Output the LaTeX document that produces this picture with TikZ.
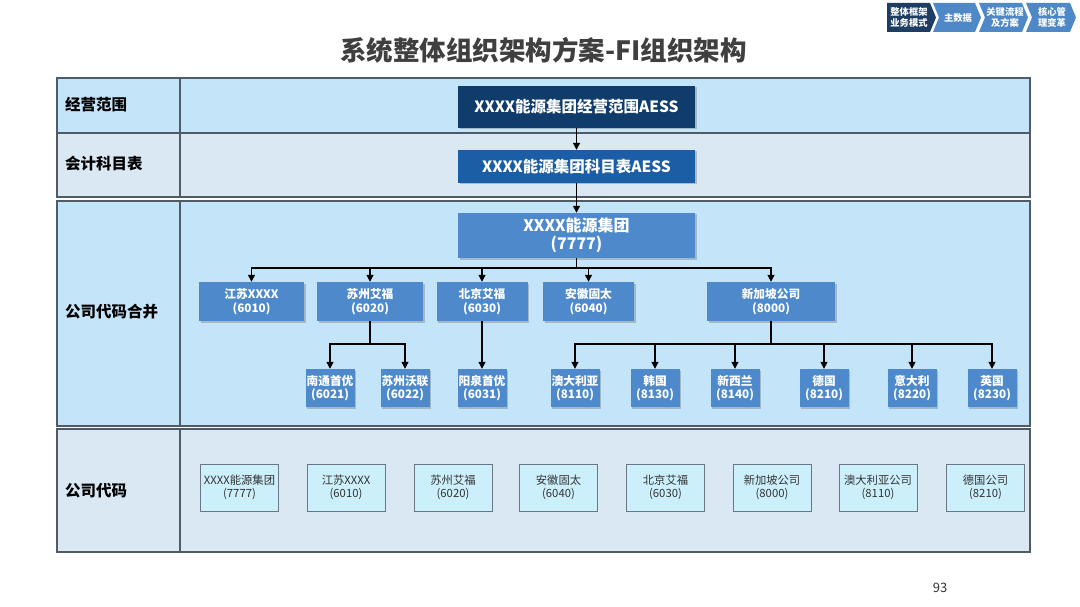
\documentclass[tikz,border=0pt]{standalone}
\usepackage{fontspec}
\setmainfont{Noto Sans CJK SC}
\usetikzlibrary{arrows.meta,shadows}
\definecolor{rowA}{HTML}{C4E4FA}
\definecolor{rowB}{HTML}{DAE8F4}
\definecolor{rule}{HTML}{4F5B66}
\definecolor{navy}{HTML}{0F3C6B}
\definecolor{midblue}{HTML}{1B5EA6}
\definecolor{boxblue}{HTML}{4E8ACB}
\definecolor{codefill}{HTML}{CCEFFC}
\definecolor{codeline}{HTML}{6A7886}
\definecolor{crumbdark}{HTML}{1E3D63}
\definecolor{crumb}{HTML}{4F88C6}
\definecolor{titlegray}{HTML}{3F3F3F}
\begin{document}
\begin{tikzpicture}[x=1pt,y=-1pt,
  rowlbl/.style={anchor=west, inner sep=0pt, font=\fontsize{15.5}{18}\selectfont\bfseries, text=black},
  shade/.style={drop shadow={shadow xshift=1.5pt, shadow yshift=-1.5pt, opacity=0.35, fill=black!60}},
  bigbox/.style={shade, inner sep=0pt, minimum width=237pt, text=white, align=center},
  orgbox/.style={shade, fill=boxblue, inner sep=0pt, text=white, align=center, font=\fontsize{11.7}{13.5}\selectfont\bfseries},
  subbox/.style={orgbox, minimum width=49pt, minimum height=38pt},
  codebox/.style={draw=codeline, line width=0.8pt, fill=codefill, inner sep=0pt, minimum width=78pt, minimum height=47pt, align=center, text=black!80, font=\fontsize{11.3}{12.5}\selectfont},
  conn/.style={draw=black, line width=1.2pt, -{Triangle[length=7pt,width=7pt]}},
  tablerow/.style={draw=rule, line width=1.3pt},
  crumbtxt/.style={text=white, align=center, inner sep=0pt, font=\fontsize{9.3}{10.5}\selectfont\bfseries}
]
\useasboundingbox (0,0) rectangle (1080,607);
\fill[white] (0,0) rectangle (1080,607);

% title
\node[font=\fontsize{26.5}{30}\selectfont\bfseries, text=titlegray] (title) at (543.5,50) {系统整体组织架构方案-FI组织架构};

% breadcrumb
\fill[crumbdark] (887,3) -- (930,3) -- (936,17.5) -- (930,32) -- (887,32) -- cycle;
\fill[crumb] (933,3) -- (975,3) -- (981,17.5) -- (975,32) -- (933,32) -- (939,17.5) -- cycle;
\fill[crumb] (979,3) -- (1022,3) -- (1028,17.5) -- (1022,32) -- (979,32) -- (985,17.5) -- cycle;
\fill[crumb] (1026,3) -- (1070,3) -- (1076,17.5) -- (1070,32) -- (1026,32) -- (1032,17.5) -- cycle;
\node[crumbtxt] (c1) at (909,17.5) {整体框架\\业务模式};
\node[crumbtxt] (c2) at (958,17.5) {主数据};
\node[crumbtxt] (c3) at (1005,17.5) {关键流程\\及方案};
\node[crumbtxt] (c4) at (1052,17.5) {核心管\\理变革};

% table rows
\path[tablerow, fill=rowA] (57,78) rectangle (1030,133);
\path[tablerow, fill=rowB] (57,133) rectangle (1030,197);
\path[tablerow, fill=rowA] (57,201) rectangle (1030,426);
\path[tablerow, fill=rowB] (57,429) rectangle (1030,552);
\draw[rule, line width=1.3pt] (180,78) -- (180,197);
\draw[rule, line width=1.3pt] (180,201) -- (180,426);
\draw[rule, line width=1.3pt] (180,429) -- (180,552);

% row labels
\node[rowlbl] (l1) at (65,105) {经营范围};
\node[rowlbl] (l2) at (65,164) {会计科目表};
\node[rowlbl] (l3) at (65,312) {公司代码合并};
\node[rowlbl] (l4) at (65,491) {公司代码};

% top boxes
\node[bigbox, fill=navy, minimum height=42pt, font=\fontsize{15.5}{18}\selectfont\bfseries] (scope) at (576.5,107) {XXXX能源集团经营范围AESS};
\node[bigbox, fill=midblue, minimum height=33pt, font=\fontsize{15.5}{18}\selectfont\bfseries] (coa) at (576.5,166.5) {XXXX能源集团科目表AESS};
\node[bigbox, fill=boxblue, minimum height=45pt, font=\fontsize{16}{17.5}\selectfont\bfseries] (root) at (576.5,235.5) {XXXX能源集团\\(7777)};

% level 2
\node[orgbox, minimum width=105pt, minimum height=39pt] (js) at (251.5,301.5) {江苏XXXX\\(6010)};
\node[orgbox, minimum width=106pt, minimum height=39pt] (sz) at (370,301.5) {苏州艾福\\(6020)};
\node[orgbox, minimum width=91pt, minimum height=39pt] (bj) at (482,301.5) {北京艾福\\(6030)};
\node[orgbox, minimum width=91pt, minimum height=39pt] (ah) at (588.5,301.5) {安徽固太\\(6040)};
\node[orgbox, minimum width=128pt, minimum height=39pt] (sg) at (771,301.5) {新加坡公司\\(8000)};

% level 3
\node[subbox] (nt) at (330,388) {南通首优\\(6021)};
\node[subbox] (wl) at (405,388) {苏州沃联\\(6022)};
\node[subbox] (yq) at (482,388) {阳泉首优\\(6031)};
\node[subbox] (au) at (575,388) {澳大利亚\\(8110)};
\node[subbox] (kr) at (655,388) {韩国\\(8130)};
\node[subbox] (nz) at (735,388) {新西兰\\(8140)};
\node[subbox] (de) at (824,388) {德国\\(8210)};
\node[subbox] (it) at (912,388) {意大利\\(8220)};
\node[subbox] (uk) at (992,388) {英国\\(8230)};

% company codes
\node[codebox] (k1) at (239.5,487.5) {XXXX能源集团\\(7777)};
\node[codebox] (k2) at (346,487.5) {江苏XXXX\\(6010)};
\node[codebox] (k3) at (453,487.5) {苏州艾福\\(6020)};
\node[codebox] (k4) at (558.5,487.5) {安徽固太\\(6040)};
\node[codebox] (k5) at (665.5,487.5) {北京艾福\\(6030)};
\node[codebox] (k6) at (772,487.5) {新加坡公司\\(8000)};
\node[codebox] (k7) at (878,487.5) {澳大利亚公司\\(8110)};
\node[codebox] (k8) at (985.5,487.5) {德国公司\\(8210)};

% connectors
\coordinate (bus1) at (0,268);
\coordinate (bus2) at (0,344);
\draw[conn] (scope.south) -- (coa.north);
\draw[conn] (coa.south) -- (root.north);
\foreach \t in {js,sz,bj,ah,sg}
  \draw[conn] (root.south) -- (root.south |- bus1) -| (\t.north);
\foreach \t in {nt,wl}
  \draw[conn] (sz.south) -- (sz.south |- bus2) -| (\t.north);
\draw[conn] (bj.south) -- (yq.north);
\foreach \t in {au,kr,nz,de,it,uk}
  \draw[conn] (sg.south) -- (sg.south |- bus2) -| (\t.north);

% page number
\node[font=\fontsize{13}{15}\selectfont, text=black!80] (pg) at (940,588) {93};
\end{tikzpicture}
\end{document}
